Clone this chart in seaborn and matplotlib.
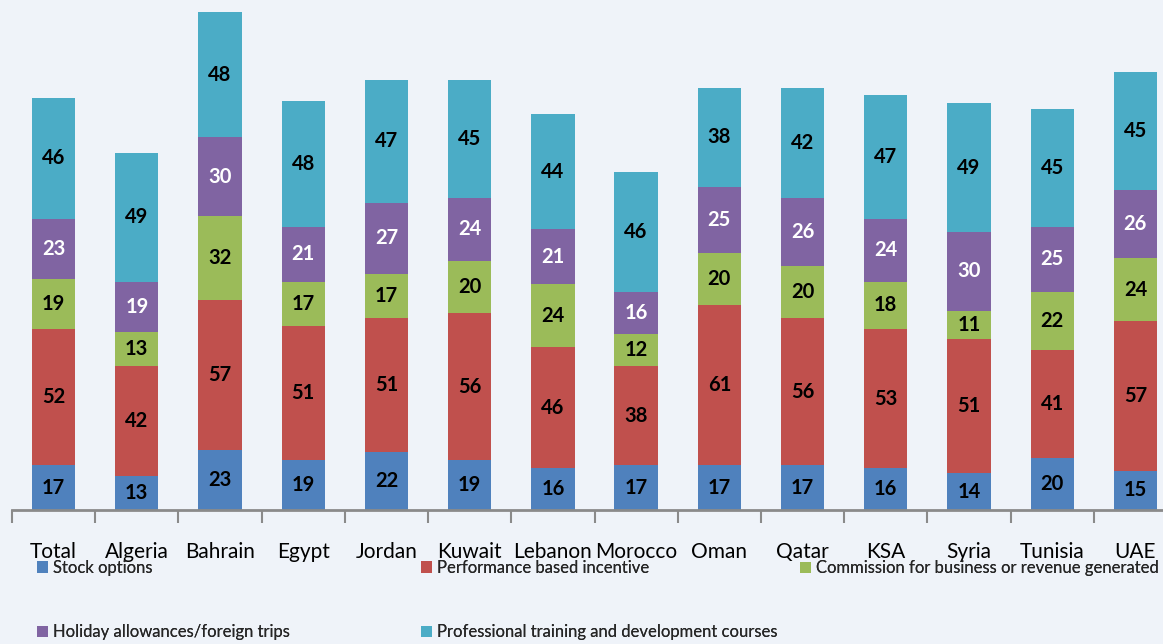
import numpy as np
import pandas as pd
import matplotlib
matplotlib.use("Agg")
import matplotlib.pyplot as plt
import seaborn as sns
from matplotlib.patches import Patch

countries = ["Total", "Algeria", "Bahrain", "Egypt", "Jordan", "Kuwait", "Lebanon",
             "Morocco", "Oman", "Qatar", "KSA", "Syria", "Tunisia", "UAE"]

stock_options = [17, 13, 23, 19, 22, 19, 16, 17, 17, 17, 16, 14, 20, 15]
performance_incentive = [52, 42, 57, 51, 51, 56, 46, 38, 61, 56, 53, 51, 41, 57]
commission = [19, 13, 32, 17, 17, 20, 24, 12, 20, 20, 18, 11, 22, 24]
holiday_allowances = [23, 19, 30, 21, 27, 24, 21, 16, 25, 26, 24, 30, 25, 26]
training_courses = [46, 49, 48, 48, 47, 45, 44, 46, 38, 42, 47, 49, 45, 45]

series_names = ["Stock options",
                "Performance based incentive",
                "Commission for business or revenue generated",
                "Holiday allowances/foreign trips",
                "Professional training and development courses"]
series_values = [stock_options, performance_incentive, commission,
                 holiday_allowances, training_courses]
colors = ["#4f81bd", "#c0504d", "#9bbb59", "#8064a2", "#4bacc6"]
label_colors = ["black", "black", "black", "white", "black"]

sns.set_theme(style="white")
plt.rcParams["font.family"] = ["Lato", "DejaVu Sans"]

bg = "#eff3f9"
fig = plt.figure(figsize=(11.63, 6.44), dpi=100, facecolor=bg)
W, H = 1163, 644
ax = fig.add_axes([12 / W, (H - 510) / H, 1165 / W, 510 / H])
ax.set_facecolor("none")

bottom = np.zeros(len(countries))
for name, vals, col, lc in zip(series_names, series_values, colors, label_colors):
    df = pd.DataFrame({"country": countries, "value": vals})
    sns.barplot(data=df, x="country", y="value", order=countries, color=col,
                width=0.52, bottom=bottom.copy(), ax=ax, saturation=1,
                linewidth=0, errorbar=None)
    cont = ax.containers[-1]
    ax.bar_label(cont, labels=[str(v) for v in vals], label_type="center",
                 color=lc, fontsize=14.5, fontweight="bold")
    bottom += np.array(vals)

ax.set_xlim(-0.5, len(countries) - 0.5)
ax.set_ylim(0, 194.4)
ax.set_xlabel("")
ax.set_ylabel("")
ax.set_yticks([])
for s in ["top", "right", "left"]:
    ax.spines[s].set_visible(False)
ax.spines["bottom"].set_color("#8a8a8a")
ax.spines["bottom"].set_linewidth(2)
ax.set_xticks(range(len(countries)))
ax.set_xticklabels(countries, fontsize=15)
ax.set_xticks(np.arange(-0.5, len(countries), 1), minor=True)
ax.tick_params(axis="x", which="major", length=0, pad=23, colors="black")
ax.tick_params(axis="x", which="minor", length=9, width=1.5, color="#8a8a8a",
               direction="out", bottom=True)

handles = [Patch(facecolor=c, edgecolor="none") for c in colors]
leg_kw = dict(frameon=False, fontsize=12, handlelength=0.65, handleheight=0.65,
              handletextpad=0.3, borderpad=0, borderaxespad=0, labelspacing=2.9)
# three legend columns: (x of square, entries)
columns = [(37, [0, 3]), (421, [1, 4]), (800, [2])]
for x, idx in columns:
    yc = 600 if len(idx) == 2 else 568
    lg = fig.legend([handles[i] for i in idx], [series_names[i] for i in idx],
                    loc="center left", bbox_to_anchor=(x / W, (H - yc) / H), **leg_kw)
    fig.add_artist(lg)

fig.savefig("out.png", dpi=100, facecolor=bg)
